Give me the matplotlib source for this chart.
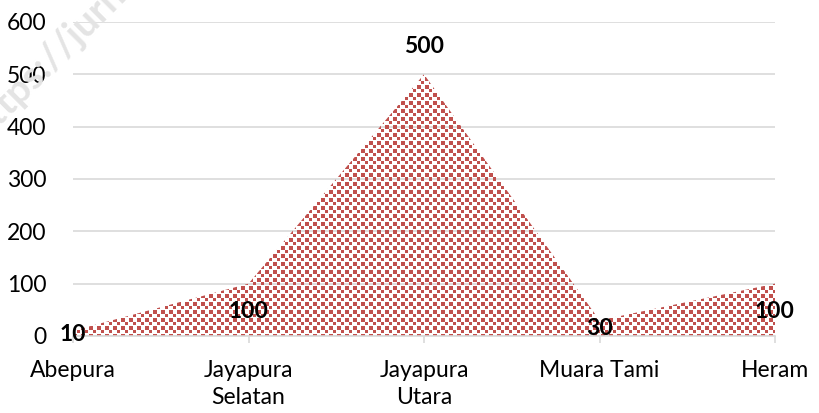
import numpy as np
import matplotlib.pyplot as plt
from matplotlib.path import Path
from matplotlib.patches import PathPatch

plt.rcParams['font.family'] = ['Lato', 'DejaVu Sans']

# Data
districts = ['Abepura', 'Jayapura\nSelatan', 'Jayapura\nUtara', 'Muara Tami', 'Heram']
counts = [10, 100, 500, 30, 100]
# label offsets (points) as placed in the original
label_dy = [-3, -20, 20, -6, -20]

GRID = '#D9D9D9'

W, H = 819, 413
fig = plt.figure(figsize=(W / 100, H / 100), dpi=100)
ax_l, ax_r, ax_t, ax_b = 73, 775, 22, 336
ax = fig.add_axes([ax_l / W, (H - ax_b) / H, (ax_r - ax_l) / W, (ax_b - ax_t) / H])

x = np.arange(len(districts))
ax.set_xlim(0, len(districts) - 1)
ax.set_ylim(0, 600)

# Area with small red square pattern, clipped to the area polygon
pw, ph = ax_r - ax_l, ax_b - ax_t
yy, xx = np.mgrid[0:ph, 0:pw]
a = ((xx % 8) < 4) & ((yy % 8) < 4)
b = (((xx + 4) % 8) < 3) & (((yy + 4) % 8) < 3)
mask = a | b
img = np.ones((ph, pw, 4))
img[mask, :3] = np.array([0xC0, 0x50, 0x4D]) / 255
img[~mask, 3] = 0
im = ax.imshow(img, extent=[0, len(districts) - 1, 0, 600], aspect='auto',
               interpolation='nearest', zorder=2, origin='upper')
verts = [(0, 0)] + list(zip(x, counts)) + [(x[-1], 0), (0, 0)]
poly = PathPatch(Path(verts), transform=ax.transData, facecolor='none', edgecolor='none')
ax.add_patch(poly)
im.set_clip_path(poly)

# Grid and axes
ax.set_yticks(range(0, 601, 100))
ax.yaxis.grid(True, color=GRID, linewidth=1.2)
ax.set_axisbelow(True)
for s in ['top', 'right', 'left']:
    ax.spines[s].set_visible(False)
ax.spines['bottom'].set_color(GRID)
ax.spines['bottom'].set_linewidth(1.2)
ax.tick_params(axis='y', length=0, pad=19, labelsize=16.5)
ax.tick_params(axis='x', length=5, width=1.2, color=GRID, pad=12, labelsize=16.5)
ax.set_xticks(x)
ax.set_xticklabels(districts, linespacing=1.35)

# Data labels
for xi, v, dy in zip(x, counts, label_dy):
    ax.annotate(str(v), (xi, v), xytext=(0, dy), textcoords='offset points',
                ha='center', va='center', fontsize=16.5, fontweight='bold', zorder=5)

# faint watermark
fig.text(-0.02, 0.66, 'https://jurnal', rotation=45, rotation_mode='anchor',
         fontsize=28, fontweight='bold', color='#E4E4E4', ha='left', va='baseline',
         zorder=0)

fig.savefig('out.png', dpi=100)
